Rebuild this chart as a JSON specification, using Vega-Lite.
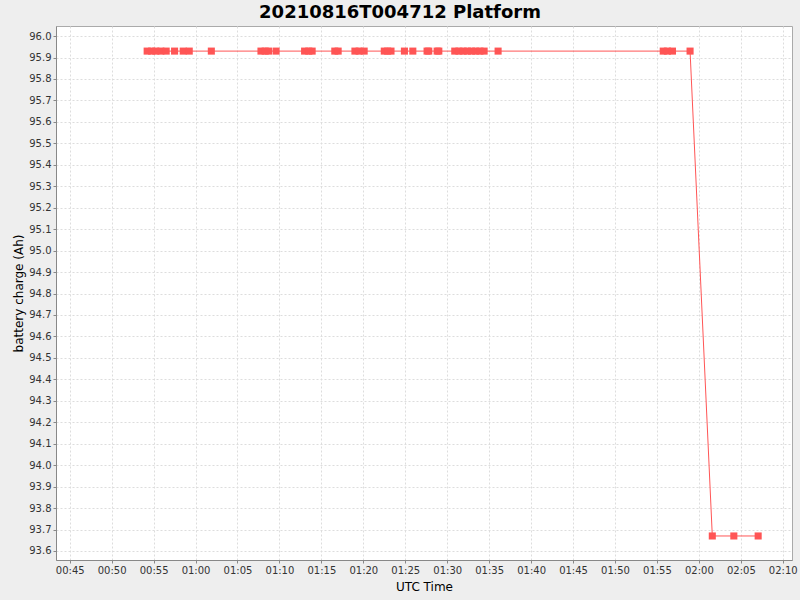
{
  "$schema": "https://vega.github.io/schema/vega-lite/v6.json",
  "width": 736,
  "height": 534,
  "autosize": {"type": "none"},
  "padding": {"left": 56, "top": 26, "right": 8, "bottom": 40},
  "background": "#eeeeee",
  "view": {"fill": "white", "stroke": "#aaaaaa", "strokeWidth": 1},
  "title": {
    "text": "20210816T004712 Platform",
    "font": "DejaVu Sans",
    "fontSize": 18,
    "fontWeight": "bold",
    "color": "black",
    "anchor": "middle",
    "dx": -24,
    "offset": 4
  },
  "config": {
    "font": "DejaVu Sans",
    "axis": {
      "labelFont": "DejaVu Sans",
      "labelFontSize": 10,
      "labelColor": "#333333",
      "titleFont": "DejaVu Sans",
      "titleFontSize": 12,
      "titleFontWeight": "normal",
      "titleColor": "black",
      "domainColor": "#888888",
      "tickColor": "#888888",
      "tickSize": 3,
      "gridColor": "#dddddd",
      "gridDash": [2, 2],
      "gridWidth": 1
    }
  },
  "data": {
    "values": [
      {"time": "2021-08-16T00:54:14", "charge": 95.93},
      {"time": "2021-08-16T00:54:46", "charge": 95.93},
      {"time": "2021-08-16T00:55:16", "charge": 95.93},
      {"time": "2021-08-16T00:55:52", "charge": 95.93},
      {"time": "2021-08-16T00:56:30", "charge": 95.93},
      {"time": "2021-08-16T00:57:30", "charge": 95.93},
      {"time": "2021-08-16T00:58:32", "charge": 95.93},
      {"time": "2021-08-16T00:59:15", "charge": 95.93},
      {"time": "2021-08-16T01:01:53", "charge": 95.93},
      {"time": "2021-08-16T01:07:48", "charge": 95.93},
      {"time": "2021-08-16T01:08:18", "charge": 95.93},
      {"time": "2021-08-16T01:08:42", "charge": 95.93},
      {"time": "2021-08-16T01:09:36", "charge": 95.93},
      {"time": "2021-08-16T01:13:00", "charge": 95.93},
      {"time": "2021-08-16T01:13:30", "charge": 95.93},
      {"time": "2021-08-16T01:13:54", "charge": 95.93},
      {"time": "2021-08-16T01:16:36", "charge": 95.93},
      {"time": "2021-08-16T01:17:00", "charge": 95.93},
      {"time": "2021-08-16T01:19:00", "charge": 95.93},
      {"time": "2021-08-16T01:19:30", "charge": 95.93},
      {"time": "2021-08-16T01:20:06", "charge": 95.93},
      {"time": "2021-08-16T01:22:30", "charge": 95.93},
      {"time": "2021-08-16T01:22:54", "charge": 95.93},
      {"time": "2021-08-16T01:23:18", "charge": 95.93},
      {"time": "2021-08-16T01:24:54", "charge": 95.93},
      {"time": "2021-08-16T01:25:54", "charge": 95.93},
      {"time": "2021-08-16T01:27:36", "charge": 95.93},
      {"time": "2021-08-16T01:27:48", "charge": 95.93},
      {"time": "2021-08-16T01:28:48", "charge": 95.93},
      {"time": "2021-08-16T01:29:00", "charge": 95.93},
      {"time": "2021-08-16T01:30:54", "charge": 95.93},
      {"time": "2021-08-16T01:31:24", "charge": 95.93},
      {"time": "2021-08-16T01:31:54", "charge": 95.93},
      {"time": "2021-08-16T01:32:24", "charge": 95.93},
      {"time": "2021-08-16T01:32:54", "charge": 95.93},
      {"time": "2021-08-16T01:33:24", "charge": 95.93},
      {"time": "2021-08-16T01:33:54", "charge": 95.93},
      {"time": "2021-08-16T01:34:24", "charge": 95.93},
      {"time": "2021-08-16T01:36:04", "charge": 95.93},
      {"time": "2021-08-16T01:55:45", "charge": 95.93},
      {"time": "2021-08-16T01:56:15", "charge": 95.93},
      {"time": "2021-08-16T01:56:51", "charge": 95.93},
      {"time": "2021-08-16T01:58:57", "charge": 95.93},
      {"time": "2021-08-16T02:01:36", "charge": 93.67},
      {"time": "2021-08-16T02:04:10", "charge": 93.67},
      {"time": "2021-08-16T02:07:04", "charge": 93.67}
    ]
  },
  "encoding": {
    "x": {
      "field": "time",
      "type": "temporal",
      "title": "UTC Time",
      "scale": {
        "domain": [
          {"year": 2021, "month": 8, "date": 16, "hours": 0, "minutes": 43, "seconds": 22},
          {"year": 2021, "month": 8, "date": 16, "hours": 2, "minutes": 11, "seconds": 6}
        ],
        "nice": false
      },
      "axis": {
        "format": "%H:%M",
        "values": [
          {"year": 2021, "month": 8, "date": 16, "hours": 0, "minutes": 45},
          {"year": 2021, "month": 8, "date": 16, "hours": 0, "minutes": 50},
          {"year": 2021, "month": 8, "date": 16, "hours": 0, "minutes": 55},
          {"year": 2021, "month": 8, "date": 16, "hours": 1, "minutes": 0},
          {"year": 2021, "month": 8, "date": 16, "hours": 1, "minutes": 5},
          {"year": 2021, "month": 8, "date": 16, "hours": 1, "minutes": 10},
          {"year": 2021, "month": 8, "date": 16, "hours": 1, "minutes": 15},
          {"year": 2021, "month": 8, "date": 16, "hours": 1, "minutes": 20},
          {"year": 2021, "month": 8, "date": 16, "hours": 1, "minutes": 25},
          {"year": 2021, "month": 8, "date": 16, "hours": 1, "minutes": 30},
          {"year": 2021, "month": 8, "date": 16, "hours": 1, "minutes": 35},
          {"year": 2021, "month": 8, "date": 16, "hours": 1, "minutes": 40},
          {"year": 2021, "month": 8, "date": 16, "hours": 1, "minutes": 45},
          {"year": 2021, "month": 8, "date": 16, "hours": 1, "minutes": 50},
          {"year": 2021, "month": 8, "date": 16, "hours": 1, "minutes": 55},
          {"year": 2021, "month": 8, "date": 16, "hours": 2, "minutes": 0},
          {"year": 2021, "month": 8, "date": 16, "hours": 2, "minutes": 5},
          {"year": 2021, "month": 8, "date": 16, "hours": 2, "minutes": 10}
        ],
        "labelFlush": false,
        "labelOverlap": false,
        "titlePadding": 6
      }
    },
    "y": {
      "field": "charge",
      "type": "quantitative",
      "title": "battery charge (Ah)",
      "scale": {"domain": [93.558, 96.047], "nice": false, "zero": false},
      "axis": {
        "values": [93.6, 93.7, 93.8, 93.9, 94.0, 94.1, 94.2, 94.3, 94.4, 94.5, 94.6, 94.7, 94.8, 94.9, 95.0, 95.1, 95.2, 95.3, 95.4, 95.5, 95.6, 95.7, 95.8, 95.9, 96.0],
        "format": ".1f",
        "labelFlush": false,
        "labelOverlap": false,
        "titlePadding": 3
      }
    }
  },
  "layer": [
    {
      "mark": {"type": "line", "color": "#ff5555", "strokeWidth": 1},
      "encoding": {}
    },
    {
      "mark": {"type": "point", "shape": "square", "filled": true, "color": "#ff5555", "opacity": 1, "size": 50},
      "encoding": {}
    }
  ]
}
